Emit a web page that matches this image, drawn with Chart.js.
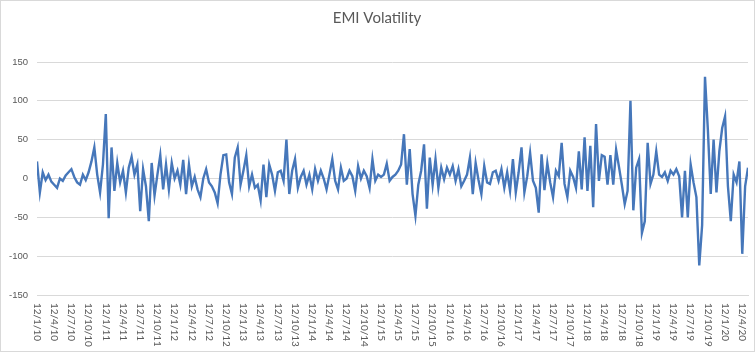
<!DOCTYPE html>
<html lang="en">
<head>
  <meta charset="UTF-8">
  <title>EMI Volatility</title>
  <script src="https://cdn.jsdelivr.net/npm/chart.js"></script>
  <style>
    body { margin: 0; background: #fff; }
    canvas { display: block; }
  </style>
</head>
<body>

<canvas id="emiChart" width="755" height="352"></canvas>

<script>
// quarterly date labels shown under the axis (one every 6 points)
const tickLabels = [
  '12/1/10', '12/4/10', '12/7/10', '12/10/10',
  '12/1/11', '12/4/11', '12/7/11', '12/10/11',
  '12/1/12', '12/4/12', '12/7/12', '12/10/12',
  '12/1/13', '12/4/13', '12/7/13', '12/10/13',
  '12/1/14', '12/4/14', '12/7/14', '12/10/14',
  '12/1/15', '12/4/15', '12/7/15', '12/10/15',
  '12/1/16', '12/4/16', '12/7/16', '12/10/16',
  '12/1/17', '12/4/17', '12/7/17', '12/10/17',
  '12/1/18', '12/4/18', '12/7/18', '12/10/18',
  '12/1/19', '12/4/19', '12/7/19', '12/10/19',
  '12/1/20', '12/4/20'
];
const pointsPerLabel = 6;

// EMI volatility
const volatility = [
  22, -18, 8, -2, 5, -4,
  -8, -12, 0, -3, 4, 8,
  12, 2, -5, -8, 5, -2,
  8, 22, 40, 5, -18, 18,
  83, -51, 40, -16, 20, -5,
  10, -18, 14, 28, 5, 18,
  -42, 12, -10, -55, 20, -22,
  5, 30, -14, 18, -14, 20,
  0, 10, -8, 24, -20, 18,
  -10, 2, -14, -24, 0, 12,
  -5, -10, -18, -32, 5, 30,
  31, -5, -20, 27, 40, -8,
  10, 30, -10, 5, -12, -8,
  -28, 18, -24, 18, 5, -16,
  8, 10, -3, 50, -20, 10,
  25, -12, 2, 10, -8, 5,
  -14, 12, -3, 10, 0, -14,
  5, 25, -3, -14, 14, -3,
  0, 10, 3, -16, 16, 0,
  10, 3, -12, 25, -3, 5,
  2, 5, 19, -3, 2, 5,
  10, 18, 57, -8, 38, -20,
  -48, -8, 10, 44, -39, 27,
  -8, 25, -12, 14, -1, 14,
  5, 16, -3, 12, -10, -3,
  5, 27, -20, 20, -2, -20,
  16, -5, -7, 8, 10, -3,
  12, -12, 8, -16, 25, -18,
  8, 40, -18, 3, 33, -3,
  -12, -44, 31, -15, 20, -5,
  -24, 10, 3, 46, -7, -24,
  10, 2, -12, 35, -14, 53,
  -16, 42, -37, 70, -3, 30,
  28, -8, 30, -8, 37, 15,
  -8, -33, -16, 100, -41, 14,
  25, -70, -55, 46, -7, 5,
  35, 5, 2, 8, -3, 10,
  5, 12, 3, -50, 10, -50,
  18, -5, -24, -112, -60, 131,
  63, -20, 50, -18, 35, 65,
  80, -10, -55, 5, -5, 22,
  -97, -10, 14
];

const yTicks = [-150, -100, -50, 0, 50, 100, 150];

const textColor = '#595959';
const gridColor = '#d9d9d9';

// x labels read top-to-bottom like the original, so draw them ourselves
const rotatedLabels = {
  id: 'rotatedLabels',
  afterDraw(chart) {
    const ctx = chart.ctx;
    const xs = chart.scales.x;
    ctx.save();
    ctx.font = '10px Lato';
    ctx.fillStyle = textColor;
    ctx.textAlign = 'left';
    ctx.textBaseline = 'middle';
    tickLabels.forEach((t, q) => {
      const px = xs.getPixelForValue(q * pointsPerLabel);
      ctx.save();
      ctx.translate(px, chart.chartArea.bottom + 8);
      ctx.rotate(Math.PI / 2);
      ctx.fillText(t, 0, 0);
      ctx.restore();
    });
    // outer chart border
    ctx.strokeStyle = gridColor;
    ctx.lineWidth = 1;
    ctx.strokeRect(0.5, 0.5, chart.width - 1, chart.height - 1);
    ctx.restore();
  }
};

new Chart(document.getElementById('emiChart'), {
  type: 'line',
  data: {
    datasets: [{
      label: 'EMI Volatility',
      data: volatility.map((v, i) => ({ x: i, y: v })),
      borderColor: '#4677ba',
      borderWidth: 2.4,
      pointRadius: 0,
      tension: 0,
      fill: false
    }]
  },
  options: {
    responsive: false,
    animation: false,
    layout: { padding: { left: 6, right: 7, top: 0, bottom: 0 } },
    plugins: {
      legend: { display: false },
      tooltip: { enabled: false },
      title: {
        display: true,
        text: 'EMI Volatility',
        color: textColor,
        font: { family: 'Lato', size: 15, weight: 'normal' },
        padding: { top: 9, bottom: 35 }
      }
    },
    scales: {
      x: {
        type: 'linear',
        min: 0,
        max: volatility.length - 1,
        grid: { display: false },
        border: { display: true, color: gridColor, width: 1 },
        ticks: { display: false },
        afterBuildTicks: s => { s.ticks = tickLabels.map((_, q) => ({ value: q * pointsPerLabel })); },
        afterFit: s => { s.height = 57; }
      },
      y: {
        min: yTicks[0],
        max: yTicks[yTicks.length - 1],
        afterBuildTicks: s => { s.ticks = yTicks.map(v => ({ value: v })); },
        grid: { color: gridColor, drawTicks: false },
        border: { display: false },
        ticks: {
          color: textColor,
          font: { family: 'Liberation Sans', size: 9.5 },
          padding: 9,
          callback: v => (v < 0 ? '-' : '') + Math.abs(v)
        },
        afterFit: s => { s.width = 31; }
      }
    }
  },
  plugins: [rotatedLabels]
});
</script>

</body>
</html>
